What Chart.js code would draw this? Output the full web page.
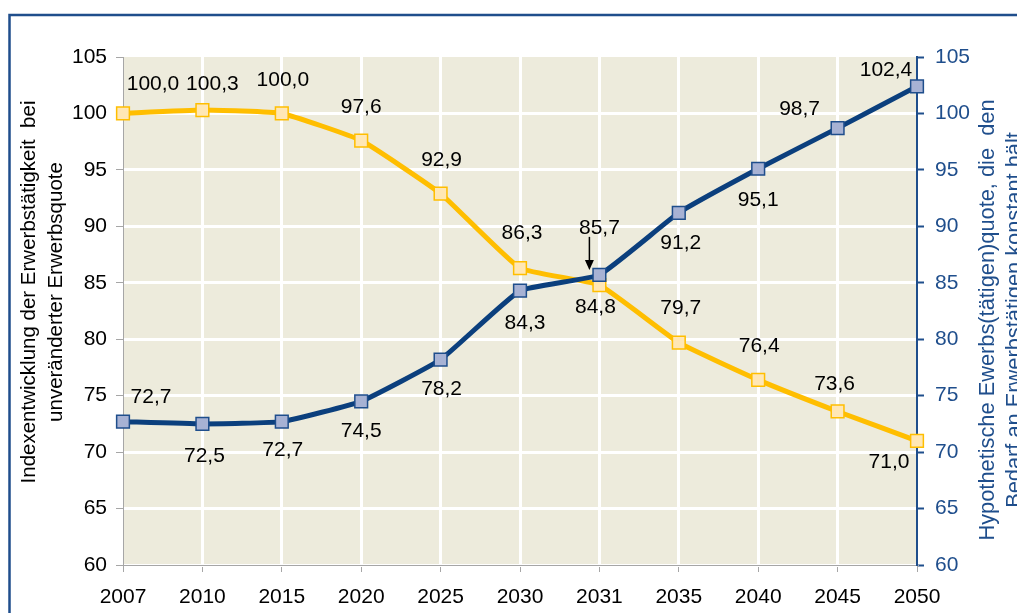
<!DOCTYPE html>
<html>
<head>
<meta charset="utf-8">
<script src="https://cdn.jsdelivr.net/npm/chart.js@4.4.0/dist/chart.umd.min.js"></script>
<style>
    html, body { margin: 0; padding: 0; background: #fff; overflow: hidden; }
</style>
</head>
<body>
<canvas id="my-chart" width="1017" height="613"></canvas>
<script>
const years = ['2007', '2010', '2015', '2020', '2025', '2030', '2031', '2035', '2040', '2045', '2050'];
const indexValues = [100.0, 100.3, 100.0, 97.6, 92.9, 86.3, 84.8, 79.7, 76.4, 73.6, 71.0];
const quoteValues = [72.7, 72.5, 72.7, 74.5, 78.2, 84.3, 85.7, 91.2, 95.1, 98.7, 102.4];
const yTicks = [60, 65, 70, 75, 80, 85, 90, 95, 100, 105];
const leftTitle = ['Indexentwicklung der Erwerbstätigkeit  bei', 'unveränderter Erwerbsquote'];
const rightTitle = ['Hypothetische Ewerbs(tätigen)quote, die  den', 'Bedarf an Erwerbstätigen konstant hält'];

// where each value label sits relative to its point (px)
const indexLabelPos = [[30, -29], [10, -26], [1, -33], [0, -33], [1, -33], [2, -35], [-4, 22], [2, -34], [1, -34], [-3, -27], [-28, 21]];
const quoteLabelPos = [[28, -24], [2, 32], [1, 29], [0, 30], [1, 30], [5, 33], [0, -47], [2, 30], [0, 31], [-38, -19], [-31, -16]];

const FONT = 'Arial, "Liberation Sans", sans-serif';
const BLUE = '#1F4E8C';

const fmt = v => v.toFixed(1).replace('.', ',');

const chartBg = {
    id: 'chartBg',
    beforeDraw(chart) {
        const {ctx, chartArea: a} = chart;
        ctx.save();
        ctx.fillStyle = '#EDEBDC';
        ctx.fillRect(a.left, a.top, a.right - a.left, a.bottom - a.top);
        ctx.restore();
    }
};

const valueLabels = {
    id: 'valueLabels',
    afterDatasetsDraw(chart) {
        const ctx = chart.ctx;
        const sets = [[0, indexValues, indexLabelPos], [1, quoteValues, quoteLabelPos]];
        ctx.save();
        ctx.font = '21px ' + FONT;
        ctx.fillStyle = '#000';
        ctx.textAlign = 'center';
        ctx.textBaseline = 'middle';
        sets.forEach(([di, vals, pos]) => {
            chart.getDatasetMeta(di).data.forEach((pt, i) => {
                ctx.fillText(fmt(vals[i]), pt.x + pos[i][0], pt.y + pos[i][1]);
            });
        });
        // arrow pointing at the 2031 crossing
        const p = chart.getDatasetMeta(1).data[6];
        const ax = p.x - 10;
        ctx.strokeStyle = '#000';
        ctx.lineWidth = 1.5;
        ctx.beginPath();
        ctx.moveTo(ax, p.y - 38);
        ctx.lineTo(ax, p.y - 14);
        ctx.stroke();
        ctx.beginPath();
        ctx.moveTo(ax - 4.5, p.y - 15);
        ctx.lineTo(ax + 4.5, p.y - 15);
        ctx.lineTo(ax, p.y - 5);
        ctx.closePath();
        ctx.fill();
        ctx.restore();
    }
};

const titlesAndFrame = {
    id: 'titlesAndFrame',
    afterDraw(chart) {
        const ctx = chart.ctx;
        ctx.save();
        ctx.strokeStyle = BLUE;
        ctx.lineWidth = 2.5;
        ctx.beginPath();
        ctx.moveTo(9.5, 613);
        ctx.lineTo(9.5, 15);
        ctx.lineTo(1017, 15);
        ctx.stroke();

        ctx.textAlign = 'center';
        ctx.textBaseline = 'middle';
        ctx.font = '20.5px ' + FONT;
        ctx.fillStyle = '#000';
        [[29, leftTitle[0]], [56, leftTitle[1]]].forEach(([x, t]) => {
            ctx.save();
            ctx.translate(x, 292);
            ctx.rotate(-Math.PI / 2);
            ctx.fillText(t, 0, 0);
            ctx.restore();
        });
        ctx.font = '21.8px ' + FONT;
        ctx.fillStyle = BLUE;
        [[988, rightTitle[0]], [1015, rightTitle[1]]].forEach(([x, t]) => {
            ctx.save();
            ctx.translate(x, 320);
            ctx.rotate(-Math.PI / 2);
            ctx.fillText(t, 0, 0);
            ctx.restore();
        });
        ctx.restore();
    }
};

const ctx = document.getElementById('my-chart').getContext('2d');

const chart = new Chart(ctx, {
    type: 'line',
    data: {
        labels: years,
        datasets: [{
            label: 'Index',
            data: indexValues,
            yAxisID: 'y',
            order: 2,
            borderColor: '#FFBE00',
            borderWidth: 5,
            tension: 0.12,
            pointStyle: 'rect',
            pointRadius: 9,
            pointBackgroundColor: '#FFE7B5',
            pointBorderColor: '#FFBE00',
            pointBorderWidth: 1.5,
            clip: false
        }, {
            label: 'Quote',
            data: quoteValues,
            yAxisID: 'y1',
            order: 1,
            borderColor: '#0B3F7D',
            borderWidth: 5,
            tension: 0.12,
            pointStyle: 'rect',
            pointRadius: 9,
            pointBackgroundColor: '#A7B2D4',
            pointBorderColor: '#1F4E8C',
            pointBorderWidth: 1.5,
            clip: false
        }]
    },
    options: {
        responsive: false,
        animation: false,
        layout: { padding: { top: 57, left: 0, right: 0, bottom: 0 } },
        plugins: { legend: { display: false }, tooltip: { enabled: false } },
        scales: {
            x: {
                offset: false,
                grid: {
                    color: c => c.index === 0 ? 'rgba(0,0,0,0)' : '#ffffff',
                    lineWidth: 3,
                    tickColor: '#A6A6A6',
                    tickLength: 7,
                    tickWidth: 1
                },
                border: { color: '#A6A6A6', width: 1 },
                ticks: { color: '#000', font: { size: 21, family: FONT }, padding: 13, maxRotation: 0, autoSkip: false },
                afterFit: s => { s.height = 48; }
            },
            y: {
                position: 'left',
                min: 60,
                max: 105,
                afterBuildTicks: s => { s.ticks = yTicks.map(v => ({ value: v })); },
                grid: {
                    color: c => c.tick && c.tick.value === 105 ? 'rgba(0,0,0,0)' : '#ffffff',
                    lineWidth: 3,
                    tickColor: '#A6A6A6',
                    tickLength: 7,
                    tickWidth: 1
                },
                border: { color: '#A6A6A6', width: 1 },
                ticks: { color: '#000', font: { size: 21, family: FONT }, padding: 9 },
                afterFit: s => { s.width = 123; }
            },
            y1: {
                position: 'right',
                min: 60,
                max: 105,
                afterBuildTicks: s => { s.ticks = yTicks.map(v => ({ value: v })); },
                grid: { drawOnChartArea: false, tickColor: BLUE, tickLength: 7, tickWidth: 2 },
                border: { color: BLUE, width: 2 },
                ticks: { color: BLUE, font: { size: 21, family: FONT }, padding: 11 },
                afterFit: s => { s.width = 100; }
            }
        }
    },
    plugins: [chartBg, valueLabels, titlesAndFrame]
});
</script>
</body>
</html>
